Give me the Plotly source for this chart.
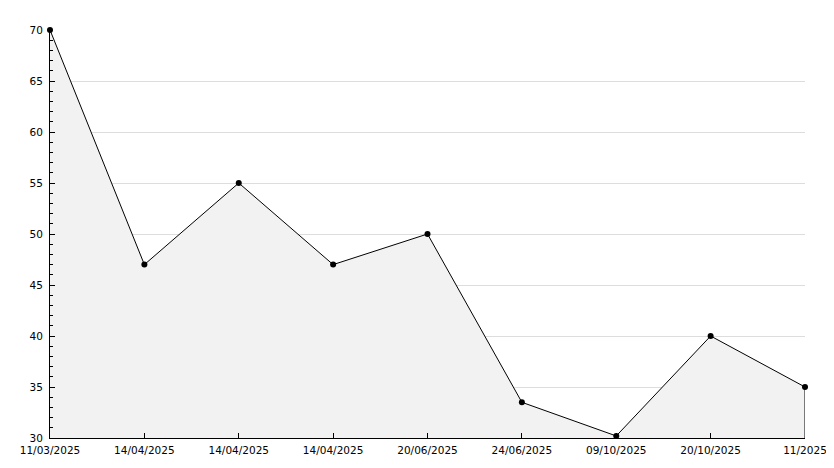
import plotly.graph_objects as go

dates = ["11/03/2025", "14/04/2025", "14/04/2025", "14/04/2025", "20/06/2025",
         "24/06/2025", "09/10/2025", "20/10/2025", "11/2025"]
values = [70, 47, 55, 47, 50, 33.5, 30.2, 40, 35]
y_min, y_max = 30, 70

xs = list(range(len(dates)))

fig = go.Figure()
fig.add_trace(go.Scatter(
    x=xs, y=values, mode="lines+markers",
    line=dict(color="black", width=1),
    marker=dict(color="black", size=6, symbol="circle"),
    fill="tozeroy", fillcolor="#f2f2f2",
    hoverinfo="x+y", showlegend=False, cliponaxis=False,
))
# closing edge at the last point
fig.add_trace(go.Scatter(
    x=[xs[-1], xs[-1]], y=[values[-1], y_min], mode="lines",
    line=dict(color="black", width=1), showlegend=False, hoverinfo="skip",
))

fig.update_layout(
    width=818, height=452,
    margin=dict(l=42, r=21, t=22, b=22),
    paper_bgcolor="white", plot_bgcolor="white",
    font=dict(family="DejaVu Sans", size=10.5, color="black"),
)
fig.update_xaxes(
    range=[0, len(dates) - 1], tickmode="array", tickvals=xs, ticktext=dates,
    showgrid=False, zeroline=False, showline=True, linecolor="black", linewidth=1,
    ticks="inside", ticklen=5, tickcolor="black", tickangle=0,
    automargin=False, ticklabeloverflow="allow", ticklabelstandoff=2,
)
fig.update_yaxes(
    range=[y_min, y_max], dtick=5, tick0=30,
    showgrid=True, gridcolor="#dddddd", gridwidth=1, zeroline=False,
    showline=True, linecolor="black", linewidth=1,
    ticks="inside", ticklen=5, tickcolor="black", ticklabelstandoff=4,
    automargin=False,
    minor=dict(dtick=1, ticks="inside", ticklen=3, tickcolor="black", showgrid=False),
)
fig.write_html("out.html")
